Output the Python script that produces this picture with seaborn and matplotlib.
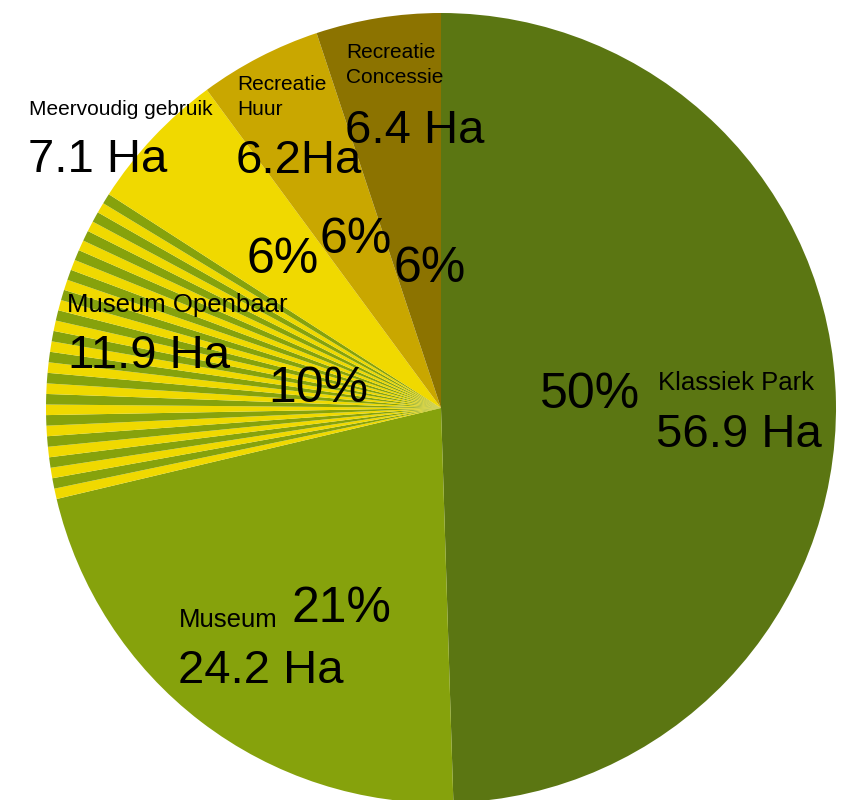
import matplotlib
matplotlib.use("Agg")
import matplotlib.pyplot as plt
import seaborn as sns

# %%
categories = ["Klassiek Park", "Museum", "Museum Openbaar", "Meervoudig gebruik",
              "Recreatie\nHuur", "Recreatie\nConcessie"]
hectares = ["56.9 Ha", "24.2 Ha", "11.9 Ha", "7.1 Ha", "6.2Ha", "6.4 Ha"]
percent_labels = ["50%", "21%", "10%", "6%", "6%", "6%"]
shares = [49.5, 21.8, 12.8, 5.8, 5.0, 5.1]  # share of the circle as drawn (%)
colors = ["#5b7612", "#86a20c", "#86a20c", "#f0d900", "#c9a700", "#8c7300"]
stripe_color = "#f0d900"
n_stripes = 30  # "Museum Openbaar" is drawn striped green / yellow

# %%
sns.set_style("white")
plt.rcParams["font.family"] = ["Liberation Sans", "DejaVu Sans"]

# split the striped slice into thin alternating wedges
sizes, wedge_colors = [], []
for i, (s, c) in enumerate(zip(shares, colors)):
    if categories[i] == "Museum Openbaar":
        for k in range(n_stripes):
            sizes.append(s / n_stripes)
            wedge_colors.append(stripe_color if k % 2 == 0 else c)
    else:
        sizes.append(s)
        wedge_colors.append(c)

W, H = 855, 800
cx, cy, r = 441, 408, 395
fig = plt.figure(figsize=(W / 100, H / 100), dpi=100)
ax = fig.add_axes([(cx - r) / W, (H - cy - r) / H, 2 * r / W, 2 * r / H])
ax.pie(sizes, colors=wedge_colors, startangle=90, counterclock=False,
       radius=1, wedgeprops={"linewidth": 0, "antialiased": True})
ax.set_xlim(-1, 1)
ax.set_ylim(-1, 1)
ax.axis("off")


def put(x, y, s, size, lines=None):
    # x, y: left / baseline in pixels from top-left
    for j, line in enumerate(s.split("\n")):
        fig.text(x / W, 1 - (y + j * (lines or 0)) / H, line, fontsize=size,
                 ha="left", va="baseline", color="black")


# label layout (pixels): name, hectares, percentage
layout = {
    0: dict(name=(658, 390, 18.5), ha=(656, 447, 34), pct=(540, 408, 36)),
    1: dict(name=(179, 627, 18.5), ha=(178, 683, 34), pct=(291, 622, 36)),
    2: dict(name=(67, 312, 18.5), ha=(68, 368, 34), pct=(268, 402, 36)),
    3: dict(name=(29, 115, 15), ha=(28, 172, 34), pct=(246, 273, 36)),
    4: dict(name=(237, 90, 15), ha=(236, 173, 34), pct=(320, 253, 36)),
    5: dict(name=(346, 58, 15), ha=(345, 143, 34), pct=(393, 282, 36)),
}
for i in range(len(categories)):
    L = layout[i]
    put(L["name"][0], L["name"][1], categories[i], L["name"][2], lines=25)
    put(L["ha"][0], L["ha"][1], hectares[i], L["ha"][2])
    put(L["pct"][0], L["pct"][1], percent_labels[i], L["pct"][2])

fig.savefig("out.png", dpi=100)
